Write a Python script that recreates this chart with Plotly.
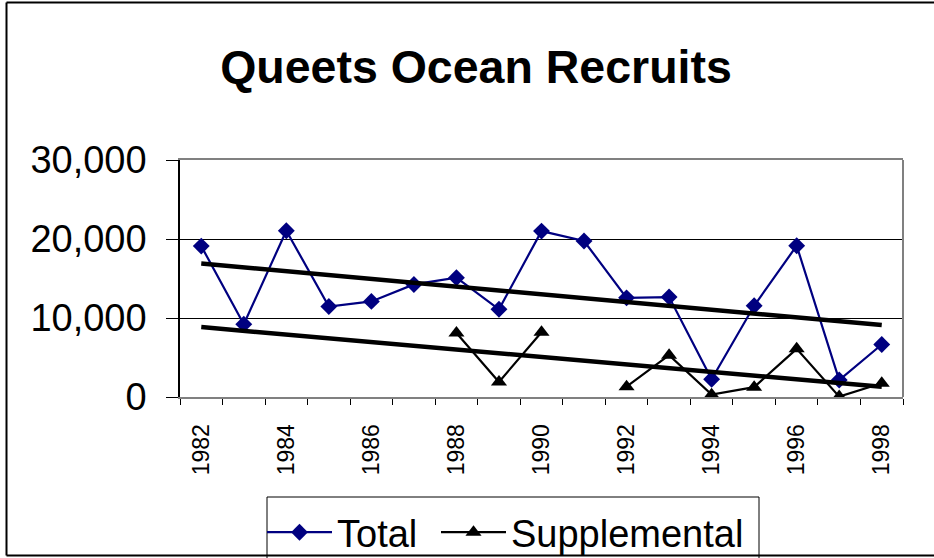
import plotly.graph_objects as go


# ==========================================================
# Data
# ==========================================================

years = list(range(1982, 1999))

total = [19100, 9200, 21050, 11450, 12100, 14250, 15100, 11100, 21000,
         19750, 12550, 12650, 2250, 11550, 19150, 2150, 6650]

supplemental = [None, None, None, None, None, None, 8100, 1900, 8200,
                None, 1300, 5300, 300, 1250, 6100, 50, 1750]

trend_years = [1982, 1998]
trend_total = [16900, 9100]
trend_supplemental = [8850, 1300]

y_ticks = [0, 10000, 20000, 30000]
x_labels = list(range(1982, 1999, 2))


# ==========================================================
# Layout helpers
# ==========================================================

W, H = 934, 558
L, R, T, B = 180, 31, 160, 161

FONT = "Arial, Liberation Sans, sans-serif"


def px_x(px):
    return (px - L) / (W - L - R)


def px_y(py):
    return (H - B - py) / (H - T - B)


def legend_at(px):
    return dict(
        orientation="h",
        x=px_x(px),
        xanchor="left",
        y=px_y(501),
        yanchor="top",
        bgcolor="rgba(0,0,0,0)",
        borderwidth=0,
        itemwidth=65,
        font=dict(family=FONT, size=38, color="black"),
        itemsizing="trace"
    )


# ==========================================================
# Figure
# ==========================================================

fig = go.Figure()

fig.add_trace(go.Scatter(
    x=years,
    y=total,
    name="Total",
    legend="legend",
    mode="lines+markers",
    line=dict(color="#000080", width=2.2),
    marker=dict(symbol="diamond", size=13, color="#000080")
))

fig.add_trace(go.Scatter(
    x=years,
    y=supplemental,
    name="Supplemental",
    legend="legend2",
    mode="lines+markers",
    connectgaps=False,
    line=dict(color="black", width=2.2),
    marker=dict(symbol="triangle-up", size=14, color="black")
))

fig.add_trace(go.Scatter(
    x=trend_years,
    y=trend_total,
    mode="lines",
    showlegend=False,
    hoverinfo="skip",
    line=dict(color="black", width=4.5)
))

fig.add_trace(go.Scatter(
    x=trend_years,
    y=trend_supplemental,
    mode="lines",
    showlegend=False,
    hoverinfo="skip",
    line=dict(color="black", width=4.5)
))

fig.update_layout(
    width=W,
    height=H,
    paper_bgcolor="white",
    plot_bgcolor="white",
    margin=dict(l=L, r=R, t=T, b=B, autoexpand=False),
    font=dict(family=FONT, color="black", size=37),
    title=dict(
        text="<b>Queets Ocean Recruits</b>",
        font=dict(family=FONT, size=46.5, color="black"),
        x=476 / W,
        xanchor="center",
        xref="container",
        y=1 - 67 / H,
        yanchor="middle",
        automargin=False
    ),
    legend=legend_at(262),
    legend2=legend_at(436),
    showlegend=True
)

fig.update_xaxes(
    range=[1981.5, 1998.5],
    automargin=False,
    tickmode="array",
    tickvals=x_labels,
    ticktext=[str(v) for v in x_labels],
    tickangle=-90,
    tickfont=dict(family=FONT, size=23, color="black"),
    ticks="",
    ticklabelstandoff=16,
    showgrid=False,
    zeroline=False,
    showline=True,
    linecolor="#808080",
    linewidth=2,
    mirror=True,
    minor=dict(
        ticks="outside",
        ticklen=6,
        tickcolor="black",
        tick0=1981.5,
        dtick=1,
        showgrid=False
    )
)

fig.update_yaxes(
    range=[0, 30000],
    automargin=False,
    tickmode="array",
    tickvals=y_ticks,
    ticktext=[f"{v:,}" for v in y_ticks],
    tickfont=dict(family=FONT, size=38, color="black"),
    ticks="outside",
    ticklen=12,
    tickcolor="black",
    ticklabelstandoff=12,
    showgrid=True,
    gridcolor="black",
    gridwidth=1,
    zeroline=False,
    showline=True,
    linecolor="black",
    linewidth=1.5
)

# plot-area right edge
fig.add_shape(type="line", xref="paper", yref="paper",
              x0=1, x1=1, y0=0, y1=1,
              line=dict(color="#808080", width=2))

# legend box (runs off the bottom like the original)
fig.add_shape(type="rect", xref="paper", yref="paper",
              x0=px_x(267), x1=px_x(759), y0=px_y(497), y1=px_y(575),
              line=dict(color="black", width=1))

# outer chart frame
frame = dict(color="black", width=2)
fig.add_shape(type="line", xref="paper", yref="paper",
              x0=px_x(6.5), x1=px_x(6.5), y0=px_y(2.5), y1=px_y(555.5), line=frame)
fig.add_shape(type="line", xref="paper", yref="paper",
              x0=px_x(6.5), x1=px_x(W), y0=px_y(2.5), y1=px_y(2.5), line=frame)
fig.add_shape(type="line", xref="paper", yref="paper",
              x0=px_x(6.5), x1=px_x(W), y0=px_y(555.5), y1=px_y(555.5), line=frame)

# page body has a default 8px margin; drop it so the figure sits at 0,0
fig.write_html(
    "out.html",
    config={"displayModeBar": False},
    post_script="document.body.style.margin='0';"
)
